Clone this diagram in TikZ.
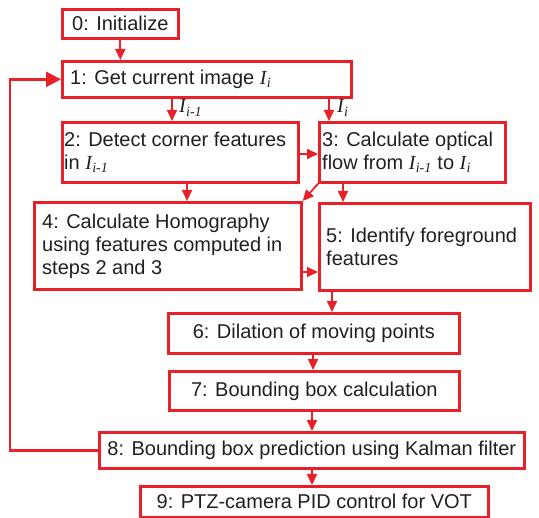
\documentclass[tikz,border=0pt]{standalone}
\usepackage{fontspec}
\setmainfont{Liberation Sans}
\newfontfamily\serifI{Liberation Serif}
\usetikzlibrary{arrows.meta}
\definecolor{fred}{RGB}{232,32,40}
\definecolor{ftext}{RGB}{35,31,32}
\newcommand\Isub[1]{{\serifI\itshape I\kern0.3pt\textsubscript{#1}}}
\begin{document}
\begin{tikzpicture}[x=1pt,y=-1pt,
  box/.style={draw=fred, line width=2.7pt, inner sep=0pt, anchor=north west,
    text=ftext, font=\fontsize{20}{23}\selectfont, align=center},
  txt/.style={inner sep=0pt, anchor=west, align=left, text=ftext,
    font=\fontsize{20}{23}\selectfont},
  lbl/.style={inner sep=0pt, anchor=west, text=ftext, font=\fontsize{20}{23}\selectfont},
  arr/.style={draw=fred, line width=1.8pt, -{Triangle[length=11pt,width=10pt]}},
  bigarr/.style={draw=fred, line width=2.4pt, -{Triangle[length=15pt,width=15pt]}}]
\useasboundingbox (0,0) rectangle (539,518);
% boxes
\node[box, minimum width=116pt, minimum height=29pt] (b0) at (61,8) {0: Initialize};
\node[box, minimum width=289pt, minimum height=36pt] (b1) at (61,60) {};
\node[box, minimum width=236pt, minimum height=60pt] (b2) at (61,121) {};
\node[box, minimum width=186pt, minimum height=60pt] (b3) at (318,121) {};
\node[box, minimum width=267pt, minimum height=87pt] (b4) at (33,201) {};
\node[box, minimum width=211pt, minimum height=87pt] (b5) at (318,202) {};
\node[box, minimum width=291pt, minimum height=40pt] (b6) at (167,312) {6: Dilation of moving points};
\node[box, minimum width=290pt, minimum height=39pt] (b7) at (168,370) {7: Bounding box calculation};
\node[box, minimum width=425pt, minimum height=36pt] (b8) at (98,431) {8: Bounding box prediction using Kalman filter};
\node[box, minimum width=348pt, minimum height=31pt] (b9) at (139,485) {9: PTZ-camera PID control for VOT};
% texts of left-aligned boxes
\node[txt] (t1) at ([xshift=9pt]b1.west) {1: Get current image \Isub{i}};
\node[txt] (t2) at ([xshift=3pt]b2.west) {2: Detect corner features\\in \Isub{i-1}};
\node[txt] (t3) at ([xshift=4pt]b3.west) {3: Calculate optical\\flow from \Isub{i-1} to \Isub{i}};
\node[txt] (t4) at ([xshift=9pt]b4.west) {4: Calculate Homography\\using features computed in\\steps 2 and 3};
\node[txt] (t5) at ([xshift=8pt]b5.west) {5: Identify foreground\\features};
% helper coordinates
\coordinate (x172) at (172,0);
\coordinate (x329) at (329,0);
\coordinate (x187) at (187,0);
\coordinate (x343) at (343,0);
\coordinate (x332) at (332,0);
\coordinate (x313) at (313,0);
\coordinate (x312) at (312,0);
\coordinate (y154) at (0,154);
\coordinate (y272) at (0,272);
\coordinate (fb) at (10,0);
% connectors
\draw[arr] (b0.south) -- (b0.south |- b1.north);
\draw[arr] (b1.south -| x172) -- (b2.north -| x172);
\draw[arr] (b1.south -| x329) -- (b3.north -| x329);
\draw[arr] (b2.east |- y154) -- (b3.west |- y154);
\draw[arr] (b2.south -| x187) -- (b4.north -| x187);
\draw[arr] (b3.south west) -- (b4.north east);
\draw[arr] (b3.south -| x343) -- (b5.north -| x343);
\draw[arr] (b4.east |- y272) -- (b5.west |- y272);
\draw[arr] (b5.south -| x332) -- (b6.north -| x332);
\draw[arr] (b6.south -| x313) -- (b7.north -| x313);
\draw[arr] (b7.south -| x312) -- (b8.north -| x312);
\draw[arr] (b8.south -| x312) -- (b9.north -| x312);
\draw[bigarr] (b8.west) -- (b8.west -| fb) -- (b1.west -| fb) -- (b1.west);
% edge labels
\node[lbl] (l1) at (179,108) {\Isub{i-1}};
\node[lbl] (l2) at (337,108) {\Isub{i}};
\end{tikzpicture}
\end{document}
